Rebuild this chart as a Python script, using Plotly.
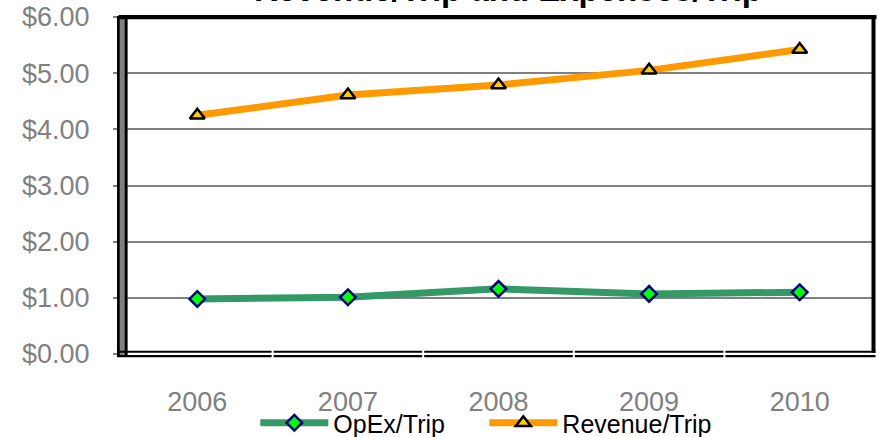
import plotly.graph_objects as go

years = ["2006", "2007", "2008", "2009", "2010"]
opex_per_trip = [0.98, 1.01, 1.16, 1.07, 1.10]
revenue_per_trip = [4.25, 4.61, 4.79, 5.05, 5.42]
y_tick_vals = [0, 1, 2, 3, 4, 5, 6]
y_tick_text = ["$0.00", "$1.00", "$2.00", "$3.00", "$4.00", "$5.00", "$6.00"]

W, H = 879, 437
L, R, T, B = 121.5, 875.5, 17, 354


def px(x):
    return (x - L) / (R - L)


def py(y):
    return (B - y) / (B - T)


x_idx = list(range(len(years)))

fig = go.Figure()
fig.add_trace(go.Scatter(
    x=x_idx, y=opex_per_trip, name="OpEx/Trip", mode="lines+markers",
    line=dict(color="#339966", width=7),
    marker=dict(symbol="diamond", size=12, color="#00FF00",
                line=dict(color="#000080", width=2.5)),
))
fig.add_trace(go.Scatter(
    x=x_idx, y=revenue_per_trip, name="Revenue/Trip", mode="lines+markers",
    line=dict(color="#FF9900", width=7),
    marker=dict(symbol="triangle-up", size=13, color="#FFCC00",
                line=dict(color="#000000", width=2.5)),
))

shapes = []


def rect(x0, x1, y0, y1, color):
    shapes.append(dict(type="rect", xref="paper", yref="paper",
                       x0=px(x0), x1=px(x1), y0=py(y1), y1=py(y0),
                       fillcolor=color, line=dict(width=0), layer="above"))


# left double wall
rect(116.5, 127, 16, 357, "#808080")
rect(116.5, 119.2, 16, 357, "#000000")
rect(124.2, 127, 16, 357, "#000000")
# bottom double line
rect(116.5, 876, 350.7, 352.8, "#000000")
rect(116.5, 876, 355, 357.2, "#000000")
for k in range(1, len(years)):
    xb = L + k * (R - L) / len(years)
    rect(xb - 1, xb + 1, 350, 358, "#FFFFFF")
# top and right borders
rect(118, 877, 15, 19.3, "#000000")
rect(872, 876, 15, 352.8, "#000000")

fig.update_layout(
    width=W, height=H,
    margin=dict(l=L, r=W - R, t=T, b=H - B, autoexpand=False),
    paper_bgcolor="white", plot_bgcolor="white",
    font=dict(family="Liberation Sans, Arial, sans-serif"),
    showlegend=True,
    legend=dict(orientation="h", x=px(255), xanchor="left",
                y=py(423), yanchor="middle",
                font=dict(size=25, color="#000000"),
                itemwidth=68, entrywidth=146, entrywidthmode="pixels",
                bgcolor="rgba(0,0,0,0)", traceorder="normal"),
    shapes=shapes,
    annotations=[dict(text="<b>Revenue/Trip and Expenses/Trip</b>",
                      xref="paper", yref="paper", x=px(508), y=py(10),
                      xanchor="center", yanchor="bottom", showarrow=False,
                      font=dict(size=33, color="#000000"))],
)
fig.update_xaxes(
    range=[-0.5, len(years) - 0.5], tickvals=x_idx, ticktext=years,
    showgrid=False, zeroline=False, showline=False, ticks="",
    tickfont=dict(size=27, color="#808080"), ticklabelstandoff=29,
)
fig.update_yaxes(
    range=[0, 6], tickvals=y_tick_vals, ticktext=y_tick_text,
    showgrid=True, gridcolor="#808080", gridwidth=2, zeroline=False,
    showline=False, ticks="outside", ticklen=8, tickwidth=2, tickcolor="#808080",
    tickfont=dict(size=27, color="#808080"), ticklabelstandoff=18,
)

fig.write_html("out.html", config={"displayModeBar": False},
               post_script="document.body.style.margin='0';")
